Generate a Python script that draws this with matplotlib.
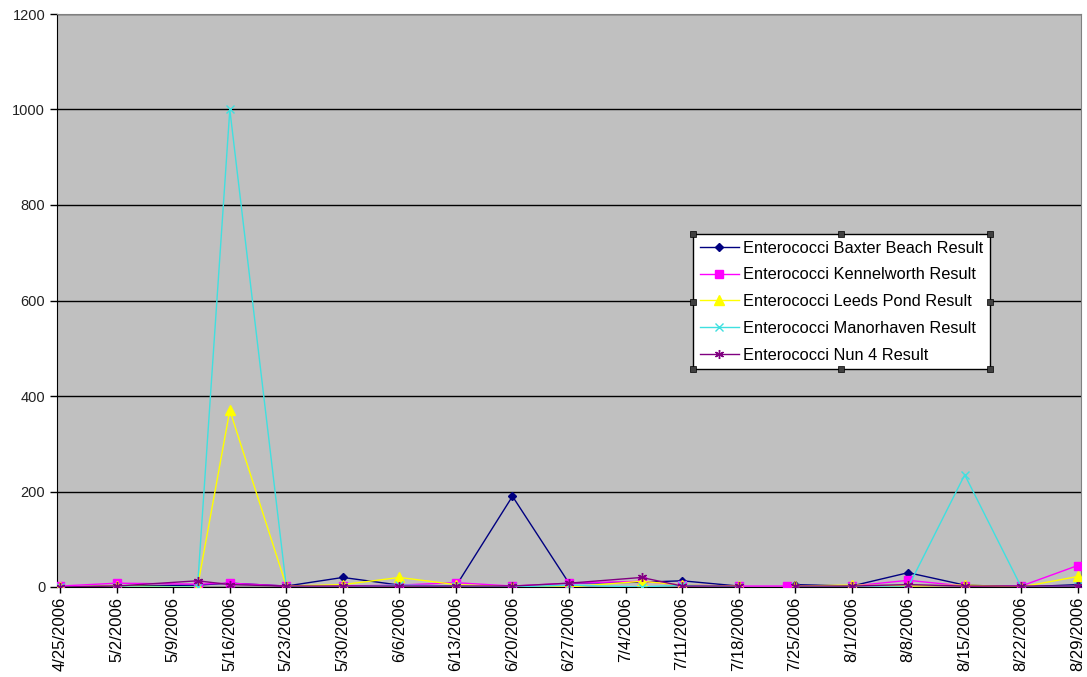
import numpy as np
import matplotlib.pyplot as plt
import matplotlib.dates as mdates
from matplotlib.patches import Rectangle
from datetime import datetime

plt.rcParams['font.family'] = ['Liberation Sans', 'DejaVu Sans']

# sample dates
dates = ['4/25/2006', '5/2/2006', '5/12/2006', '5/16/2006', '5/23/2006', '5/30/2006',
         '6/6/2006', '6/13/2006', '6/20/2006', '6/27/2006', '7/6/2006', '7/11/2006',
         '7/18/2006', '7/24/2006', '7/25/2006', '8/1/2006', '8/8/2006', '8/15/2006',
         '8/22/2006', '8/29/2006']

nan = np.nan
baxter      = [0, 2, 4, 8, 2, 20, 4, 2, 190, 8, 10, 13, 2, nan, 5, 2, 30, 4, 0, 5]
kennelworth = [2, 8, 6, 8, 2, 2, 4, 9, 2, 8, 12, 4, 2, 2, nan, 2, 14, 2, 2, 45]
leeds_pond  = [0, 2, 0, 370, 2, 5, 20, 5, 0, 0, 12, 4, 2, nan, 2, 4, 2, 4, 0, 22]
manorhaven  = [0, 0, 0, 1000, 0, 0, 4, 2, 0, 4, 0, 4, 0, nan, 0, 0, 0, 235, 0, 2]
nun_4       = [0, 2, 13, 5, 2, 2, 2, 2, 2, 8, 20, 2, 2, nan, 2, 2, 5, 2, 2, 2]

tick_labels = ['4/25/2006', '5/2/2006', '5/9/2006', '5/16/2006', '5/23/2006', '5/30/2006',
               '6/6/2006', '6/13/2006', '6/20/2006', '6/27/2006', '7/4/2006', '7/11/2006',
               '7/18/2006', '7/25/2006', '8/1/2006', '8/8/2006', '8/15/2006', '8/22/2006',
               '8/29/2006']

series = [
    ('Enterococci Baxter Beach Result', baxter, '#000080', 'D', 4.5),
    ('Enterococci Kennelworth Result', kennelworth, '#FF00FF', 's', 5.5),
    ('Enterococci Leeds Pond Result', leeds_pond, '#FFFF00', '^', 6.5),
    ('Enterococci Manorhaven Result', manorhaven, '#3FE0E0', 'x', 5.5),
    ('Enterococci Nun 4 Result', nun_4, '#800080', (6, 2, 0), 6.5),
]

def to_num(s):
    return mdates.date2num(datetime.strptime(s, '%m/%d/%Y'))

x = [to_num(d) for d in dates]
ticks = [to_num(t) for t in tick_labels]

fig = plt.figure(figsize=(10.87, 6.77), dpi=100)
ax_w = 1024
ax = fig.add_axes([57 / 1087, 1 - 587 / 677, ax_w / 1087, 573 / 677])
ax.set_facecolor('#C0C0C0')

for label, vals, color, marker, ms in series:
    ax.plot(x, vals, color=color, lw=1.0, marker=marker, markersize=ms,
            markeredgewidth=1.0, label=label, zorder=3)

ax.set_ylim(0, 1200)
ax.set_yticks(range(0, 1201, 200))
ax.yaxis.grid(True, color='black', lw=1.0)
ax.set_axisbelow(True)

ax.set_xlim(ticks[0] - 0.4, ticks[-1] + 0.4)
ax.set_xticks(ticks)
ax.set_xticklabels(tick_labels, rotation=90, fontsize=12)
ax.tick_params(axis='y', labelsize=10.5, labelcolor='#222222', length=5, width=1)
ax.tick_params(axis='x', length=4, width=1, pad=3)

ax.spines['left'].set_color('black')
ax.spines['bottom'].set_color('black')
ax.spines['top'].set_color('#808080')
ax.spines['right'].set_color('#808080')

leg = ax.legend(loc='upper left', bbox_to_anchor=(636 / ax_w, 1 - 220 / 573),
                fontsize=11.8, frameon=True, fancybox=False, edgecolor='black',
                framealpha=1, labelspacing=0.72, handlelength=2.4,
                handletextpad=0.25, borderpad=0.4, borderaxespad=0)
leg.get_frame().set_linewidth(1.0)
leg.set_zorder(5)

# selection handles around the legend box
fig.canvas.draw()
bb = leg.get_window_extent().transformed(fig.transFigure.inverted())
hw, hh = 6 / 1087, 6 / 677
xs = [bb.x0, (bb.x0 + bb.x1) / 2, bb.x1]
ys = [bb.y0, (bb.y0 + bb.y1) / 2, bb.y1]
for hx in xs:
    for hy in ys:
        if hx == xs[1] and hy == ys[1]:
            continue
        fig.add_artist(Rectangle((hx - hw / 2, hy - hh / 2), hw, hh,
                                 transform=fig.transFigure, facecolor='#404040',
                                 edgecolor='black', lw=0.5, zorder=10))

fig.savefig('out.png', dpi=100)
